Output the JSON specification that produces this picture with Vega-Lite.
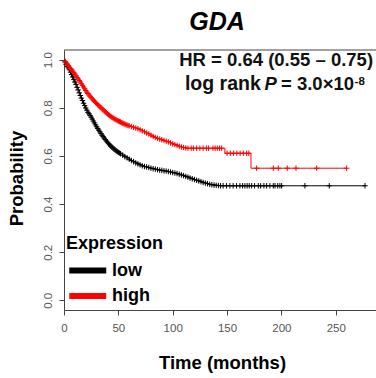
{
  "$schema": "https://vega.github.io/schema/vega-lite/v6.json",
  "width": 312,
  "height": 260,
  "autosize": {"type": "none"},
  "padding": {"left": 64, "top": 50, "right": 0, "bottom": 68},
  "background": "white",
  "config": {"view": {"stroke": null}, "font": "Liberation Sans"},
  "title": {
    "text": "GDA",
    "font": "Liberation Sans",
    "fontSize": 25,
    "fontStyle": "italic",
    "fontWeight": "bold",
    "color": "black",
    "anchor": "middle",
    "baseline": "alphabetic",
    "offset": 20,
    "dy": 25,
    "dx": -3
  },
  "data": {
    "values": [
      {"group": "low", "time": 0, "prob": 1.0, "censored": 0},
      {"group": "low", "time": 1, "prob": 0.99, "censored": 1},
      {"group": "low", "time": 2, "prob": 0.98, "censored": 1},
      {"group": "low", "time": 3, "prob": 0.972, "censored": 1},
      {"group": "low", "time": 4, "prob": 0.966, "censored": 1},
      {"group": "low", "time": 5, "prob": 0.958, "censored": 1},
      {"group": "low", "time": 6, "prob": 0.948, "censored": 1},
      {"group": "low", "time": 7, "prob": 0.938, "censored": 1},
      {"group": "low", "time": 8, "prob": 0.928, "censored": 1},
      {"group": "low", "time": 9, "prob": 0.917, "censored": 1},
      {"group": "low", "time": 10, "prob": 0.907, "censored": 1},
      {"group": "low", "time": 11, "prob": 0.897, "censored": 1},
      {"group": "low", "time": 12, "prob": 0.885, "censored": 1},
      {"group": "low", "time": 13, "prob": 0.874, "censored": 1},
      {"group": "low", "time": 14, "prob": 0.862, "censored": 1},
      {"group": "low", "time": 15, "prob": 0.851, "censored": 1},
      {"group": "low", "time": 16, "prob": 0.84, "censored": 1},
      {"group": "low", "time": 17, "prob": 0.83, "censored": 1},
      {"group": "low", "time": 18, "prob": 0.819, "censored": 1},
      {"group": "low", "time": 19, "prob": 0.809, "censored": 1},
      {"group": "low", "time": 20, "prob": 0.799, "censored": 1},
      {"group": "low", "time": 21, "prob": 0.79, "censored": 1},
      {"group": "low", "time": 22, "prob": 0.781, "censored": 1},
      {"group": "low", "time": 23, "prob": 0.775, "censored": 1},
      {"group": "low", "time": 24, "prob": 0.768, "censored": 1},
      {"group": "low", "time": 25, "prob": 0.761, "censored": 1},
      {"group": "low", "time": 26, "prob": 0.753, "censored": 1},
      {"group": "low", "time": 27, "prob": 0.745, "censored": 1},
      {"group": "low", "time": 28, "prob": 0.737, "censored": 1},
      {"group": "low", "time": 29, "prob": 0.729, "censored": 1},
      {"group": "low", "time": 30, "prob": 0.721, "censored": 1},
      {"group": "low", "time": 31, "prob": 0.714, "censored": 1},
      {"group": "low", "time": 32, "prob": 0.707, "censored": 1},
      {"group": "low", "time": 33, "prob": 0.7, "censored": 1},
      {"group": "low", "time": 34, "prob": 0.693, "censored": 1},
      {"group": "low", "time": 35, "prob": 0.686, "censored": 1},
      {"group": "low", "time": 36, "prob": 0.68, "censored": 1},
      {"group": "low", "time": 37, "prob": 0.674, "censored": 1},
      {"group": "low", "time": 38, "prob": 0.668, "censored": 1},
      {"group": "low", "time": 39, "prob": 0.662, "censored": 1},
      {"group": "low", "time": 40, "prob": 0.657, "censored": 1},
      {"group": "low", "time": 41, "prob": 0.651, "censored": 1},
      {"group": "low", "time": 42, "prob": 0.646, "censored": 1},
      {"group": "low", "time": 43, "prob": 0.641, "censored": 1},
      {"group": "low", "time": 44, "prob": 0.637, "censored": 1},
      {"group": "low", "time": 45, "prob": 0.633, "censored": 1},
      {"group": "low", "time": 46, "prob": 0.629, "censored": 1},
      {"group": "low", "time": 47, "prob": 0.625, "censored": 1},
      {"group": "low", "time": 48, "prob": 0.621, "censored": 1},
      {"group": "low", "time": 49, "prob": 0.618, "censored": 1},
      {"group": "low", "time": 50, "prob": 0.615, "censored": 1},
      {"group": "low", "time": 51, "prob": 0.612, "censored": 1},
      {"group": "low", "time": 52, "prob": 0.609, "censored": 1},
      {"group": "low", "time": 54, "prob": 0.603, "censored": 1},
      {"group": "low", "time": 56, "prob": 0.597, "censored": 1},
      {"group": "low", "time": 58, "prob": 0.592, "censored": 1},
      {"group": "low", "time": 60, "prob": 0.586, "censored": 1},
      {"group": "low", "time": 62, "prob": 0.581, "censored": 1},
      {"group": "low", "time": 64, "prob": 0.576, "censored": 1},
      {"group": "low", "time": 66, "prob": 0.571, "censored": 1},
      {"group": "low", "time": 68, "prob": 0.567, "censored": 1},
      {"group": "low", "time": 70, "prob": 0.563, "censored": 1},
      {"group": "low", "time": 72, "prob": 0.559, "censored": 1},
      {"group": "low", "time": 74, "prob": 0.556, "censored": 1},
      {"group": "low", "time": 76, "prob": 0.554, "censored": 1},
      {"group": "low", "time": 78, "prob": 0.552, "censored": 1},
      {"group": "low", "time": 80, "prob": 0.549, "censored": 1},
      {"group": "low", "time": 82, "prob": 0.547, "censored": 1},
      {"group": "low", "time": 84, "prob": 0.545, "censored": 1},
      {"group": "low", "time": 86, "prob": 0.543, "censored": 1},
      {"group": "low", "time": 88, "prob": 0.541, "censored": 1},
      {"group": "low", "time": 90, "prob": 0.54, "censored": 1},
      {"group": "low", "time": 92, "prob": 0.538, "censored": 1},
      {"group": "low", "time": 94, "prob": 0.537, "censored": 1},
      {"group": "low", "time": 96, "prob": 0.535, "censored": 1},
      {"group": "low", "time": 98, "prob": 0.533, "censored": 1},
      {"group": "low", "time": 100, "prob": 0.531, "censored": 1},
      {"group": "low", "time": 102, "prob": 0.529, "censored": 1},
      {"group": "low", "time": 104, "prob": 0.527, "censored": 1},
      {"group": "low", "time": 106, "prob": 0.524, "censored": 1},
      {"group": "low", "time": 108, "prob": 0.521, "censored": 1},
      {"group": "low", "time": 110, "prob": 0.518, "censored": 1},
      {"group": "low", "time": 112, "prob": 0.515, "censored": 1},
      {"group": "low", "time": 114, "prob": 0.512, "censored": 1},
      {"group": "low", "time": 116, "prob": 0.508, "censored": 1},
      {"group": "low", "time": 118, "prob": 0.505, "censored": 1},
      {"group": "low", "time": 120, "prob": 0.502, "censored": 1},
      {"group": "low", "time": 122, "prob": 0.499, "censored": 1},
      {"group": "low", "time": 124, "prob": 0.496, "censored": 1},
      {"group": "low", "time": 126, "prob": 0.493, "censored": 1},
      {"group": "low", "time": 128, "prob": 0.49, "censored": 1},
      {"group": "low", "time": 130, "prob": 0.487, "censored": 1},
      {"group": "low", "time": 132, "prob": 0.485, "censored": 1},
      {"group": "low", "time": 134, "prob": 0.482, "censored": 1},
      {"group": "low", "time": 136, "prob": 0.48, "censored": 1},
      {"group": "low", "time": 138, "prob": 0.479, "censored": 1},
      {"group": "low", "time": 140, "prob": 0.478, "censored": 1},
      {"group": "low", "time": 142, "prob": 0.477, "censored": 1},
      {"group": "low", "time": 144, "prob": 0.476, "censored": 1},
      {"group": "low", "time": 146.4, "prob": 0.476, "censored": 1},
      {"group": "low", "time": 149.5, "prob": 0.476, "censored": 1},
      {"group": "low", "time": 152.6, "prob": 0.476, "censored": 1},
      {"group": "low", "time": 155.6, "prob": 0.476, "censored": 1},
      {"group": "low", "time": 158.7, "prob": 0.476, "censored": 1},
      {"group": "low", "time": 161.8, "prob": 0.476, "censored": 1},
      {"group": "low", "time": 164.3, "prob": 0.476, "censored": 1},
      {"group": "low", "time": 166.4, "prob": 0.476, "censored": 1},
      {"group": "low", "time": 168.5, "prob": 0.476, "censored": 1},
      {"group": "low", "time": 170.4, "prob": 0.476, "censored": 1},
      {"group": "low", "time": 172.6, "prob": 0.476, "censored": 1},
      {"group": "low", "time": 175.3, "prob": 0.476, "censored": 1},
      {"group": "low", "time": 178.7, "prob": 0.476, "censored": 1},
      {"group": "low", "time": 180.9, "prob": 0.476, "censored": 1},
      {"group": "low", "time": 183.9, "prob": 0.476, "censored": 1},
      {"group": "low", "time": 186.4, "prob": 0.476, "censored": 1},
      {"group": "low", "time": 189.4, "prob": 0.476, "censored": 1},
      {"group": "low", "time": 192.5, "prob": 0.476, "censored": 1},
      {"group": "low", "time": 194.1, "prob": 0.476, "censored": 1},
      {"group": "low", "time": 196.6, "prob": 0.476, "censored": 1},
      {"group": "low", "time": 198.6, "prob": 0.476, "censored": 1},
      {"group": "low", "time": 200.2, "prob": 0.476, "censored": 1},
      {"group": "low", "time": 221.6, "prob": 0.476, "censored": 1},
      {"group": "low", "time": 244, "prob": 0.476, "censored": 1},
      {"group": "low", "time": 276.9, "prob": 0.476, "censored": 1},
      {"group": "high", "time": 0, "prob": 1.0, "censored": 0},
      {"group": "high", "time": 1, "prob": 0.993, "censored": 1},
      {"group": "high", "time": 2, "prob": 0.986, "censored": 1},
      {"group": "high", "time": 3, "prob": 0.981, "censored": 1},
      {"group": "high", "time": 4, "prob": 0.975, "censored": 1},
      {"group": "high", "time": 5, "prob": 0.969, "censored": 1},
      {"group": "high", "time": 6, "prob": 0.963, "censored": 1},
      {"group": "high", "time": 7, "prob": 0.958, "censored": 1},
      {"group": "high", "time": 8, "prob": 0.952, "censored": 1},
      {"group": "high", "time": 9, "prob": 0.946, "censored": 1},
      {"group": "high", "time": 10, "prob": 0.94, "censored": 1},
      {"group": "high", "time": 11, "prob": 0.933, "censored": 1},
      {"group": "high", "time": 12, "prob": 0.926, "censored": 1},
      {"group": "high", "time": 13, "prob": 0.92, "censored": 1},
      {"group": "high", "time": 14, "prob": 0.913, "censored": 1},
      {"group": "high", "time": 15, "prob": 0.907, "censored": 1},
      {"group": "high", "time": 16, "prob": 0.9, "censored": 1},
      {"group": "high", "time": 17, "prob": 0.893, "censored": 1},
      {"group": "high", "time": 18, "prob": 0.886, "censored": 1},
      {"group": "high", "time": 19, "prob": 0.879, "censored": 1},
      {"group": "high", "time": 20, "prob": 0.872, "censored": 1},
      {"group": "high", "time": 21, "prob": 0.865, "censored": 1},
      {"group": "high", "time": 22, "prob": 0.859, "censored": 1},
      {"group": "high", "time": 23, "prob": 0.853, "censored": 1},
      {"group": "high", "time": 24, "prob": 0.848, "censored": 1},
      {"group": "high", "time": 25, "prob": 0.842, "censored": 1},
      {"group": "high", "time": 26, "prob": 0.837, "censored": 1},
      {"group": "high", "time": 27, "prob": 0.832, "censored": 1},
      {"group": "high", "time": 28, "prob": 0.827, "censored": 1},
      {"group": "high", "time": 29, "prob": 0.822, "censored": 1},
      {"group": "high", "time": 30, "prob": 0.818, "censored": 1},
      {"group": "high", "time": 31, "prob": 0.813, "censored": 1},
      {"group": "high", "time": 32, "prob": 0.809, "censored": 1},
      {"group": "high", "time": 33, "prob": 0.804, "censored": 1},
      {"group": "high", "time": 34, "prob": 0.8, "censored": 1},
      {"group": "high", "time": 35, "prob": 0.796, "censored": 1},
      {"group": "high", "time": 36, "prob": 0.792, "censored": 1},
      {"group": "high", "time": 37, "prob": 0.787, "censored": 1},
      {"group": "high", "time": 38, "prob": 0.783, "censored": 1},
      {"group": "high", "time": 39, "prob": 0.779, "censored": 1},
      {"group": "high", "time": 40, "prob": 0.775, "censored": 1},
      {"group": "high", "time": 41, "prob": 0.771, "censored": 1},
      {"group": "high", "time": 42, "prob": 0.768, "censored": 1},
      {"group": "high", "time": 43, "prob": 0.764, "censored": 1},
      {"group": "high", "time": 44, "prob": 0.761, "censored": 1},
      {"group": "high", "time": 45, "prob": 0.758, "censored": 1},
      {"group": "high", "time": 46, "prob": 0.755, "censored": 1},
      {"group": "high", "time": 47, "prob": 0.752, "censored": 1},
      {"group": "high", "time": 48, "prob": 0.75, "censored": 1},
      {"group": "high", "time": 49, "prob": 0.747, "censored": 1},
      {"group": "high", "time": 50, "prob": 0.745, "censored": 1},
      {"group": "high", "time": 51, "prob": 0.743, "censored": 1},
      {"group": "high", "time": 52, "prob": 0.741, "censored": 1},
      {"group": "high", "time": 53, "prob": 0.738, "censored": 1},
      {"group": "high", "time": 54, "prob": 0.736, "censored": 1},
      {"group": "high", "time": 55, "prob": 0.734, "censored": 1},
      {"group": "high", "time": 56, "prob": 0.732, "censored": 1},
      {"group": "high", "time": 57, "prob": 0.73, "censored": 1},
      {"group": "high", "time": 58, "prob": 0.728, "censored": 1},
      {"group": "high", "time": 59, "prob": 0.726, "censored": 1},
      {"group": "high", "time": 60, "prob": 0.725, "censored": 1},
      {"group": "high", "time": 62, "prob": 0.722, "censored": 1},
      {"group": "high", "time": 64, "prob": 0.719, "censored": 1},
      {"group": "high", "time": 66, "prob": 0.716, "censored": 1},
      {"group": "high", "time": 68, "prob": 0.713, "censored": 1},
      {"group": "high", "time": 70, "prob": 0.709, "censored": 1},
      {"group": "high", "time": 72, "prob": 0.704, "censored": 1},
      {"group": "high", "time": 74, "prob": 0.7, "censored": 1},
      {"group": "high", "time": 76, "prob": 0.695, "censored": 1},
      {"group": "high", "time": 78, "prob": 0.691, "censored": 1},
      {"group": "high", "time": 80, "prob": 0.686, "censored": 1},
      {"group": "high", "time": 82, "prob": 0.681, "censored": 1},
      {"group": "high", "time": 84, "prob": 0.677, "censored": 1},
      {"group": "high", "time": 86, "prob": 0.673, "censored": 1},
      {"group": "high", "time": 88, "prob": 0.67, "censored": 1},
      {"group": "high", "time": 90, "prob": 0.667, "censored": 1},
      {"group": "high", "time": 92, "prob": 0.664, "censored": 1},
      {"group": "high", "time": 94, "prob": 0.661, "censored": 1},
      {"group": "high", "time": 96, "prob": 0.658, "censored": 1},
      {"group": "high", "time": 98, "prob": 0.654, "censored": 1},
      {"group": "high", "time": 100, "prob": 0.65, "censored": 1},
      {"group": "high", "time": 102, "prob": 0.647, "censored": 1},
      {"group": "high", "time": 104, "prob": 0.644, "censored": 1},
      {"group": "high", "time": 106, "prob": 0.64, "censored": 1},
      {"group": "high", "time": 108, "prob": 0.637, "censored": 1},
      {"group": "high", "time": 110, "prob": 0.635, "censored": 1},
      {"group": "high", "time": 112, "prob": 0.633, "censored": 1},
      {"group": "high", "time": 114, "prob": 0.632, "censored": 1},
      {"group": "high", "time": 117, "prob": 0.632, "censored": 1},
      {"group": "high", "time": 119, "prob": 0.632, "censored": 1},
      {"group": "high", "time": 122, "prob": 0.632, "censored": 1},
      {"group": "high", "time": 125, "prob": 0.632, "censored": 1},
      {"group": "high", "time": 128, "prob": 0.632, "censored": 1},
      {"group": "high", "time": 131, "prob": 0.632, "censored": 1},
      {"group": "high", "time": 133, "prob": 0.632, "censored": 1},
      {"group": "high", "time": 137, "prob": 0.632, "censored": 1},
      {"group": "high", "time": 139, "prob": 0.632, "censored": 1},
      {"group": "high", "time": 141, "prob": 0.632, "censored": 1},
      {"group": "high", "time": 143, "prob": 0.632, "censored": 1},
      {"group": "high", "time": 145, "prob": 0.632, "censored": 1},
      {"group": "high", "time": 148, "prob": 0.611, "censored": 0},
      {"group": "high", "time": 150, "prob": 0.611, "censored": 1},
      {"group": "high", "time": 153, "prob": 0.611, "censored": 1},
      {"group": "high", "time": 156, "prob": 0.611, "censored": 1},
      {"group": "high", "time": 159, "prob": 0.611, "censored": 1},
      {"group": "high", "time": 162, "prob": 0.611, "censored": 1},
      {"group": "high", "time": 165, "prob": 0.611, "censored": 1},
      {"group": "high", "time": 168, "prob": 0.611, "censored": 1},
      {"group": "high", "time": 170, "prob": 0.611, "censored": 1},
      {"group": "high", "time": 172, "prob": 0.549, "censored": 0},
      {"group": "high", "time": 177.2, "prob": 0.549, "censored": 1},
      {"group": "high", "time": 192.5, "prob": 0.549, "censored": 1},
      {"group": "high", "time": 197.1, "prob": 0.549, "censored": 1},
      {"group": "high", "time": 205.4, "prob": 0.549, "censored": 1},
      {"group": "high", "time": 213.4, "prob": 0.549, "censored": 1},
      {"group": "high", "time": 232.4, "prob": 0.549, "censored": 1},
      {"group": "high", "time": 260, "prob": 0.549, "censored": 1}
    ]
  },
  "layer": [
    {
      "mark": {"type": "line", "interpolate": "step-after", "strokeWidth": 1},
      "encoding": {
        "x": {
          "field": "time",
          "type": "quantitative",
          "scale": {"domain": [0, 287], "nice": false, "zero": false},
          "axis": {
            "title": "Time (months)",
            "values": [0, 50, 100, 150, 200, 250],
            "grid": false,
            "tickSize": 5,
            "tickColor": "#444",
            "domainColor": "#444",
            "labelColor": "#555",
            "labelFont": "Liberation Sans",
            "labelFontSize": 11.5,
            "labelPadding": 7,
            "labelFlush": false,
            "labelOverlap": false,
            "titleFont": "Liberation Sans",
            "titleFontSize": 18.5,
            "titleFontWeight": "bold",
            "titleColor": "black",
            "titleX": 158,
            "titleY": 58,
            "titleAlign": "center",
            "titleBaseline": "alphabetic"
          }
        },
        "y": {
          "field": "prob",
          "type": "quantitative",
          "scale": {"domain": [-0.04, 1.04], "nice": false, "zero": false},
          "axis": {
            "title": "Probability",
            "values": [0, 0.2, 0.4, 0.6, 0.8, 1.0],
            "format": ".1f",
            "grid": false,
            "tickSize": 5,
            "tickColor": "#444",
            "domainColor": "#444",
            "labelColor": "#555",
            "labelFont": "Liberation Sans",
            "labelFontSize": 11.5,
            "labelAngle": -90,
            "labelAlign": "center",
            "labelBaseline": "alphabetic",
            "labelPadding": 8,
            "labelOverlap": false,
            "labelFlush": false,
            "titleFont": "Liberation Sans",
            "titleFontSize": 18.5,
            "titleFontWeight": "bold",
            "titleColor": "black",
            "titleAngle": -90,
            "titleX": -42,
            "titleY": 128,
            "titleAlign": "center",
            "titleBaseline": "alphabetic"
          }
        },
        "color": {
          "field": "group",
          "type": "nominal",
          "scale": {"domain": ["low", "high"], "range": ["#000000", "#ff0000"]},
          "legend": {
            "title": "Expression",
            "orient": "none",
            "legendX": 2,
            "legendY": 185,
            "padding": 0,
            "titleFont": "Liberation Sans",
            "titleFontSize": 18,
            "titleFontWeight": "bold",
            "titleColor": "black",
            "titlePadding": 5,
            "labelFont": "Liberation Sans",
            "labelFontSize": 18,
            "labelFontWeight": "bold",
            "labelColor": "black",
            "labelOffset": 21,
            "symbolType": "M-1,0H3",
            "symbolSize": 342,
            "symbolStrokeWidth": 6,
            "rowPadding": 0.5
          }
        }
      }
    },
    {
      "transform": [{"filter": "datum.censored == 1"}],
      "mark": {
        "type": "point",
        "shape": "M-1,0H1M0,-1V1",
        "filled": false,
        "strokeWidth": 1,
        "size": 30,
        "opacity": 1
      },
      "encoding": {
        "x": {"field": "time", "type": "quantitative"},
        "y": {"field": "prob", "type": "quantitative"},
        "stroke": {
          "field": "group",
          "type": "nominal",
          "scale": {"domain": ["low", "high"], "range": ["#000000", "#ff0000"]},
          "legend": null
        }
      }
    },
    {
      "data": {"values": [{}]},
      "mark": {"type": "rule", "color": "#444", "strokeWidth": 1},
      "encoding": {"y": {"datum": 1.04, "type": "quantitative"}}
    },
    {
      "data": {"values": [{}]},
      "mark": {"type": "text", "text": "HR = 0.64 (0.55 \u2013 0.75)", "align": "right", "baseline": "alphabetic", "font": "Liberation Sans", "fontSize": 18.5, "fontWeight": "bold", "color": "#111"},
      "encoding": {"x": {"datum": 284.3, "type": "quantitative"}, "y": {"datum": 0.972, "type": "quantitative"}}
    },
    {
      "data": {"values": [{}]},
      "mark": {"type": "text", "text": "log rank", "align": "right", "baseline": "alphabetic", "font": "Liberation Sans", "fontSize": 19.5, "fontWeight": "bold", "color": "#111"},
      "encoding": {"x": {"datum": 181.0, "type": "quantitative"}, "y": {"datum": 0.8718, "type": "quantitative"}}
    },
    {
      "data": {"values": [{}]},
      "mark": {"type": "text", "text": "P", "align": "left", "baseline": "alphabetic", "font": "Liberation Sans", "fontSize": 18.5, "fontWeight": "bold", "fontStyle": "italic", "color": "#111"},
      "encoding": {"x": {"datum": 184.5, "type": "quantitative"}, "y": {"datum": 0.8718, "type": "quantitative"}}
    },
    {
      "data": {"values": [{}]},
      "mark": {"type": "text", "text": "= 3.0\u00d710", "align": "right", "baseline": "alphabetic", "font": "Liberation Sans", "fontSize": 18.5, "fontWeight": "bold", "color": "#111"},
      "encoding": {"x": {"datum": 266.8, "type": "quantitative"}, "y": {"datum": 0.8718, "type": "quantitative"}}
    },
    {
      "data": {"values": [{}]},
      "mark": {"type": "text", "text": "-8", "align": "left", "baseline": "alphabetic", "font": "Liberation Sans", "fontSize": 11.5, "fontWeight": "bold", "color": "#111"},
      "encoding": {"x": {"datum": 267.3, "type": "quantitative"}, "y": {"datum": 0.8946, "type": "quantitative"}}
    }
  ]
}
